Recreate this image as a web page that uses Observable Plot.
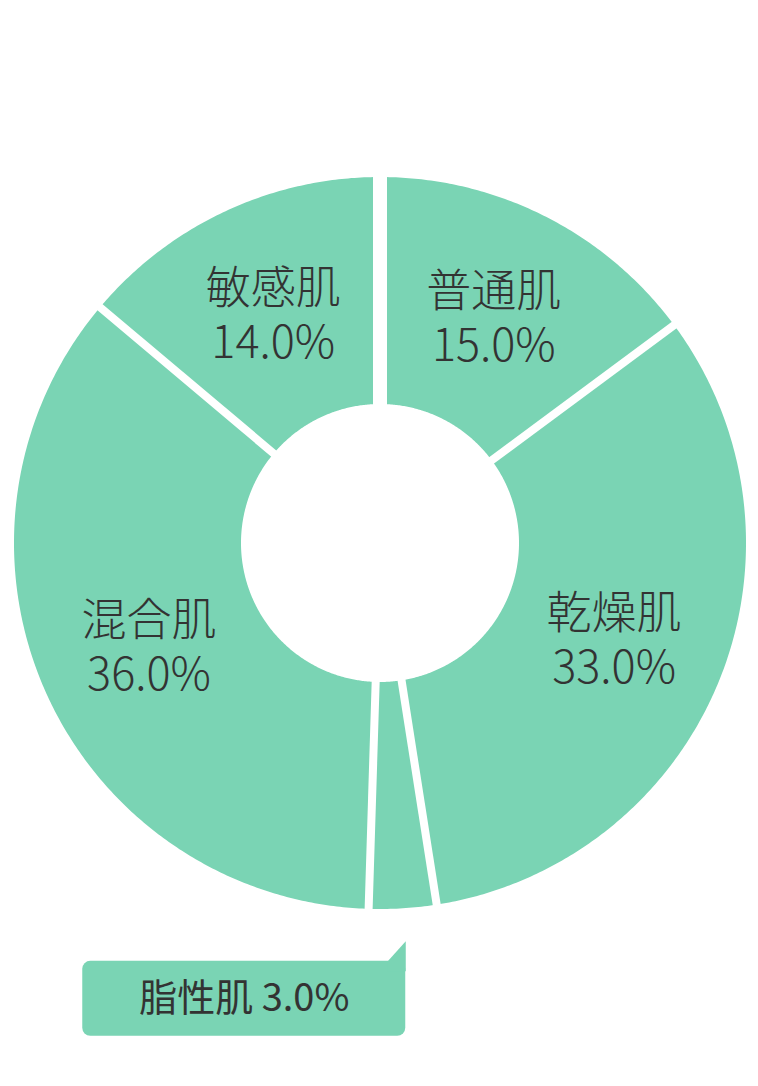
<!DOCTYPE html>
<html><head><meta charset="utf-8">
<script src="https://cdn.jsdelivr.net/npm/d3@7"></script>
<script src="https://cdn.jsdelivr.net/npm/@observablehq/plot@0.6"></script>
<style>html,body{margin:0;padding:0;background:#fff;}#chart svg{display:block;}</style>
</head><body><div id="chart"></div>
<script>
// ---- data ----
const categories = ["普通肌", "乾燥肌", "脂性肌", "混合肌", "敏感肌"];
const shares = [15.0, 33.0, 3.0, 36.0, 14.0];
const percentLabels = ["15.0%", "33.0%", "3.0%", "36.0%", "14.0%"];
const calloutCategories = ["脂性肌"];

// ---- layout ----
const W = 758, H = 1086;
const cx = 379.5, cy = 542.5, Rpx = 366;
const innerR = 139 / Rpx;
const labelR = 253 / Rpx;
const green = "#7ad4b4", ink = "#333333";
const font = "'Noto Sans CJK JP', 'Noto Sans', sans-serif";
const px = v => v / Rpx; // pixel length -> data units

const rows = categories.map((c, i) => ({category: c, share: shares[i], label: percentLabels[i]}));
const arcs = d3.pie().sort(null).value(d => d.share)(rows);

// slice polygons (annular sectors)
const poly = [];
arcs.forEach(a => {
  const n = Math.max(4, Math.ceil((a.endAngle - a.startAngle) / (Math.PI / 360)));
  const ts = d3.range(n + 1).map(k => a.startAngle + (a.endAngle - a.startAngle) * k / n);
  ts.forEach(t => poly.push({category: a.data.category, x: Math.sin(t), y: Math.cos(t)}));
  ts.slice().reverse().forEach(t => poly.push({category: a.data.category, x: innerR * Math.sin(t), y: innerR * Math.cos(t)}));
});

// separators at slice boundaries
const seps = arcs.map(a => ({
  t: a.startAngle,
  x1: 0.3 * Math.sin(a.startAngle), y1: 0.3 * Math.cos(a.startAngle),
  x2: 1.05 * Math.sin(a.startAngle), y2: 1.05 * Math.cos(a.startAngle)
}));

// inside labels
const inside = arcs.filter(a => !calloutCategories.includes(a.data.category)).map(a => {
  const m = (a.startAngle + a.endAngle) / 2;
  return {text: a.data.category + "\n" + a.data.label, x: labelR * Math.sin(m), y: labelR * Math.cos(m)};
});

// callout anchored to the small slice
const calloutMarks = [];
arcs.filter(a => calloutCategories.includes(a.data.category)).forEach(a => {
  const m = (a.startAngle + a.endAngle) / 2;
  const ax = Math.sin(m) + px(3), ay = Math.cos(m) - px(33);   // tail apex
  const right = ax, left = ax - px(323), top = ay - px(20), bottom = top - px(75);
  const box = [{x1: left, x2: right, y1: bottom, y2: top}];
  const tail = [
    {x: ax, y: ay}, {x: ax, y: top - px(10)}, {x: ax - px(18), y: top - px(10)}, {x: ax - px(18), y: top}
  ];
  const txt = [{x: (left + right) / 2, y: (top + bottom) / 2, text: a.data.category + " " + a.data.label}];
  calloutMarks.push(
    Plot.rect(box, {x1: "x1", x2: "x2", y1: "y1", y2: "y2", fill: green, rx: 8}),
    Plot.line(tail, {x: "x", y: "y", fill: green, stroke: "none"}),
    Plot.text(txt, {x: "x", y: "y", text: "text", fontSize: 38, fill: ink, textAnchor: "middle", lineAnchor: "middle"})
  );
});

const chart = Plot.plot({
  width: W, height: H, margin: 0,
  x: {domain: [-1, 1], range: [cx - Rpx, cx + Rpx], axis: null},
  y: {domain: [-1, 1], range: [cy + Rpx, cy - Rpx], axis: null},
  style: {fontFamily: font, background: "#fff", overflow: "visible"},
  marks: [
    Plot.line(poly, {x: "x", y: "y", z: "category", fill: green, stroke: "none"}),
    Plot.link(seps, {x1: "x1", y1: "y1", x2: "x2", y2: "y2", stroke: "#fff", strokeWidth: d => d.t === 0 ? 14 : 8}),
    Plot.text(inside, {x: "x", y: "y", text: "text", fontSize: 45, lineHeight: 1.2, fill: ink, lineAnchor: "middle", fontWeight: 300})
  ].concat(calloutMarks)
});
document.getElementById("chart").append(chart);
</script>
</body></html>
